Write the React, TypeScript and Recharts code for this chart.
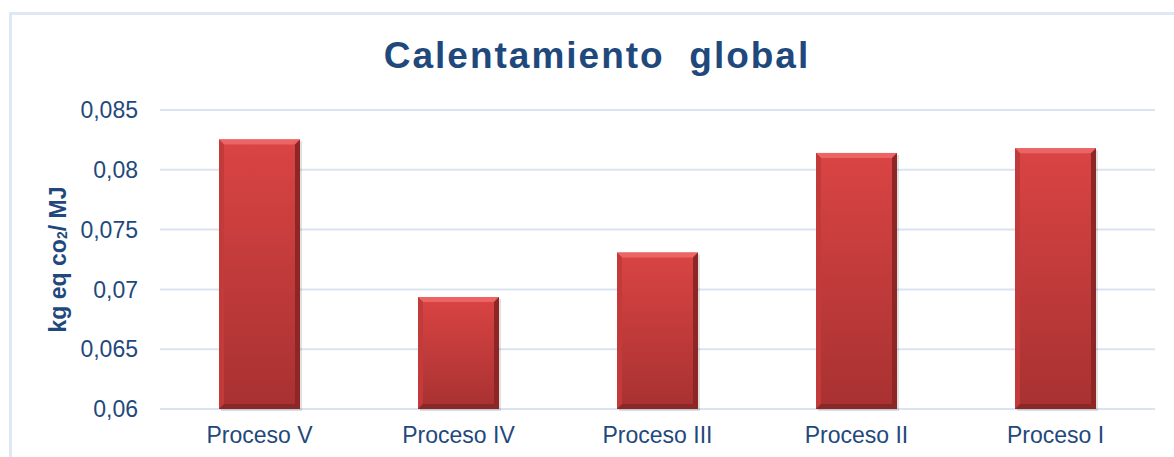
import { BarChart, Bar, XAxis, YAxis, CartesianGrid } from 'recharts';

const procesos = ['Proceso V', 'Proceso IV', 'Proceso III', 'Proceso II', 'Proceso I'];
const calentamiento = [0.08254, 0.06936, 0.07308, 0.08141, 0.0818];
const yTicks = [0.06, 0.065, 0.07, 0.075, 0.08, 0.085];

const data = procesos.map((name, i) => ({ name, value: calentamiento[i] }));

const FONT = '"Liberation Sans", Arial, sans-serif';
const BLUE = '#1f497d';

function BevelBar(props: any) {
  const { x, y, width: w, height: h } = props;
  if (!h || h <= 0) return null;
  const b = 5;
  return (
    <g>
      <rect x={x + 2} y={y + 2} width={w} height={h} fill="#000" opacity={0.12} />
      <rect x={x} y={y} width={w} height={h} fill="url(#barFill)" />
      <polygon points={`${x},${y} ${x + w},${y} ${x + w - b},${y + b} ${x + b},${y + b}`} fill="#ec6464" />
      <polygon points={`${x + w},${y} ${x + w},${y + h} ${x + w - b},${y + h - b} ${x + w - b},${y + b}`} fill="#8e2626" />
      <polygon points={`${x},${y} ${x + b},${y + b} ${x + b},${y + h - b} ${x},${y + h}`} fill="#c23a3a" />
      <polygon points={`${x},${y + h} ${x + w},${y + h} ${x + w - b},${y + h - b} ${x + b},${y + h - b}`} fill="#8a2828" />
    </g>
  );
}

function AxisTitle(props: any) {
  const { viewBox } = props;
  const cx = 58;
  const cy = viewBox.y + viewBox.height / 2;
  return (
    <text
      x={cx}
      y={cy}
      transform={`rotate(-90 ${cx} ${cy})`}
      textAnchor="middle"
      dominantBaseline="central"
      fontFamily={FONT}
      fontWeight="bold"
      fontSize={23}
      fill={BLUE}
    >
      <tspan>kg eq co</tspan>
      <tspan fontSize={14} dy={4}>2</tspan>
      <tspan dy={-4}>/ MJ</tspan>
    </text>
  );
}

export default function App() {
  return (
    <div style={{ position: 'fixed', left: 0, top: 0, width: 1174, height: 457, overflow: 'hidden', background: '#fff' }}>
      <div
        style={{
          position: 'absolute',
          left: 9,
          top: 12,
          width: 1300,
          height: 600,
          border: '3px solid #dfe8f4',
          boxSizing: 'border-box',
        }}
      />
      <svg width={1174} height={90} style={{ position: 'absolute', left: 0, top: 0 }}>
        <text
          x={597}
          y={68}
          textAnchor="middle"
          fontFamily={FONT}
          fontWeight="bold"
          fontSize={37}
          letterSpacing={2}
          fill={BLUE}
          style={{ whiteSpace: 'pre' }}
        >
          Calentamiento  global
        </text>
      </svg>
      <div style={{ position: 'absolute', left: 0, top: 0 }}>
        <BarChart
          width={1174}
          height={457}
          data={data}
          margin={{ top: 110, right: 19, bottom: 8, left: 10 }}
          barSize={81}
        >
          <defs>
            <linearGradient id="barFill" x1="0" y1="0" x2="0" y2="1">
              <stop offset="0%" stopColor="#da4444" />
              <stop offset="100%" stopColor="#a83131" />
            </linearGradient>
          </defs>
          <CartesianGrid horizontal vertical={false} stroke="#dae3f1" strokeWidth={2} />
          <XAxis
            dataKey="name"
            axisLine={false}
            tickLine={false}
            tickSize={0}
            tickMargin={18}
            height={40}
            interval={0}
            tick={{ fontFamily: FONT, fontSize: 23, fill: BLUE }}
          />
          <YAxis
            domain={[0.06, 0.085]}
            ticks={yTicks}
            width={150}
            axisLine={false}
            tickLine={false}
            tickSize={0}
            tickMargin={22}
            tickFormatter={(v: number) => String(v).replace('.', ',')}
            tick={{ fontFamily: FONT, fontSize: 23, fill: BLUE }}
            label={{ content: AxisTitle }}
          />
          <Bar dataKey="value" shape={BevelBar} isAnimationActive={false} />
        </BarChart>
      </div>
    </div>
  );
}
